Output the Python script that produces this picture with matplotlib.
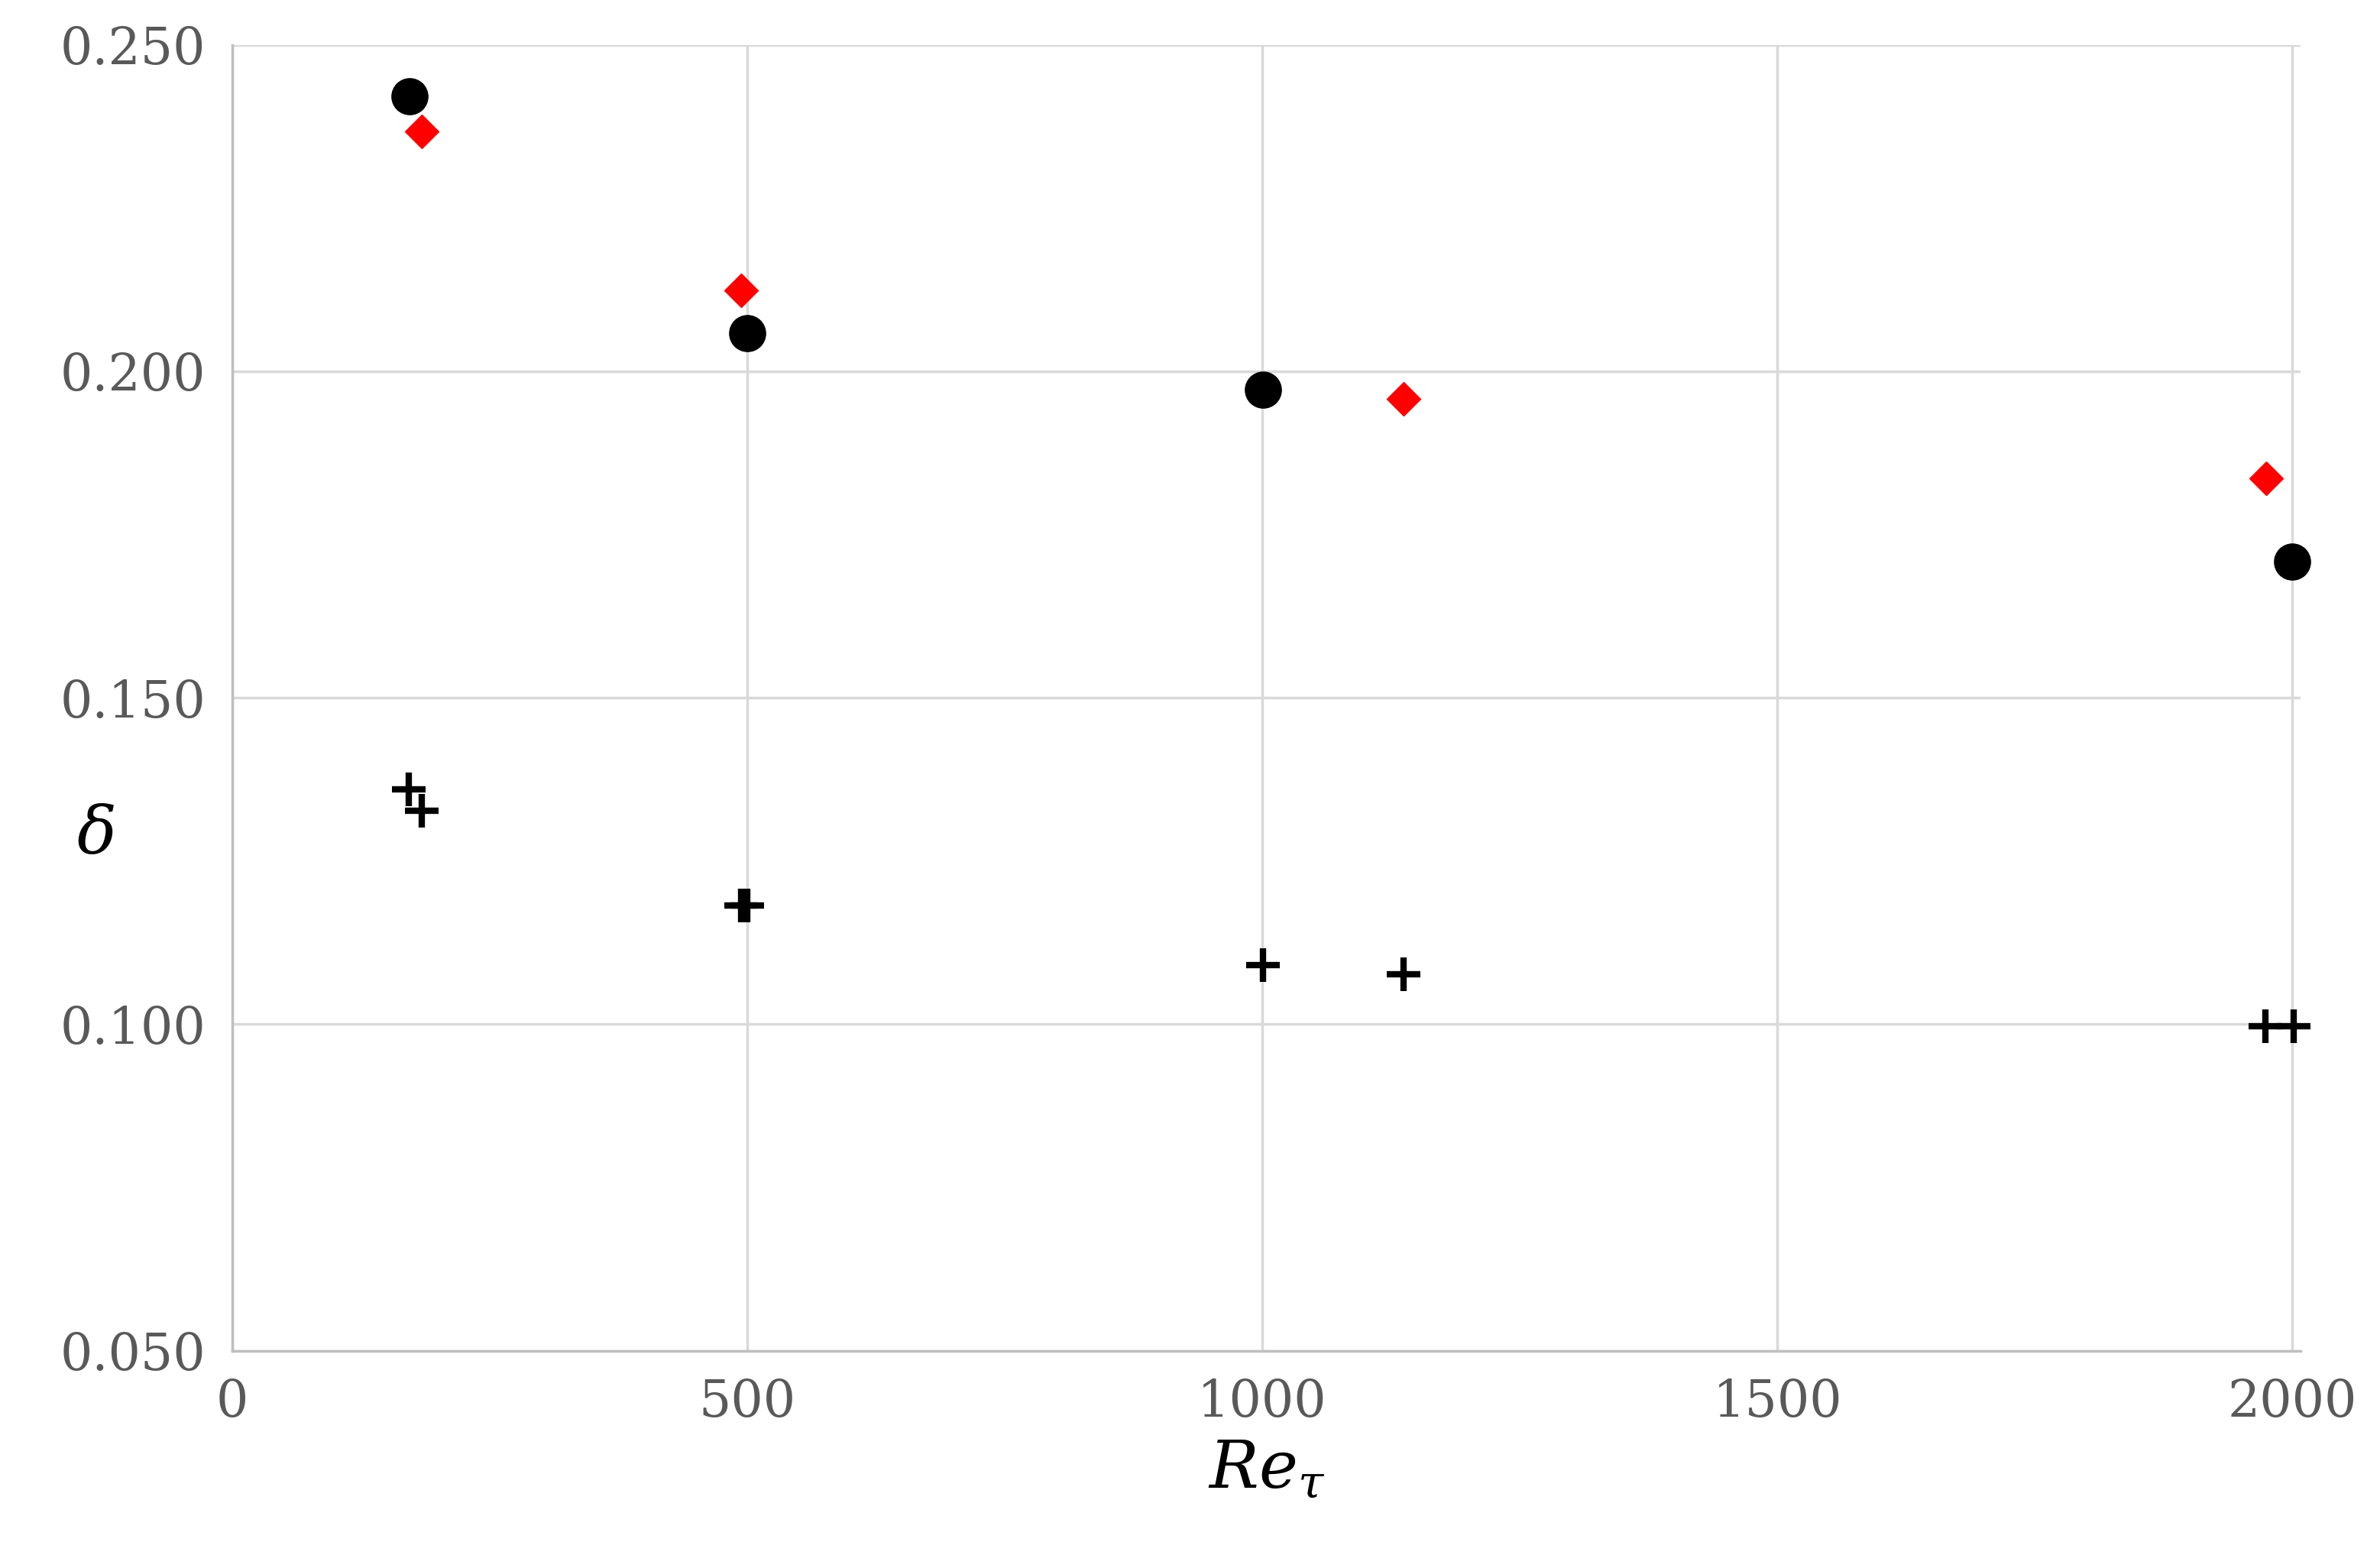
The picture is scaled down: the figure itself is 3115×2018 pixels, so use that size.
import matplotlib
matplotlib.use("Agg")
import matplotlib.pyplot as plt

plt.rcParams['font.family'] = ['DejaVu Serif']
plt.rcParams['mathtext.fontset'] = 'dejavuserif'

# black circles
circ_x = [172, 500, 1001, 2000]
circ_y = [0.2421, 0.2058, 0.1972, 0.1708]
# red diamonds
diam_x = [184, 494, 1137, 1975]
diam_y = [0.2367, 0.2124, 0.1958, 0.1836]
# plus markers
plus_x = [171, 184, 494, 500, 1001, 1137, 1974, 2001]
plus_y = [0.1360, 0.1327, 0.1182, 0.1182, 0.1091, 0.1077, 0.0997, 0.0997]

fig = plt.figure(figsize=(31.15, 20.18), dpi=100)
ax = fig.add_axes([0.0976, 0.124, 0.869, 0.847])

ax.plot(circ_x, circ_y, 'o', color='black', ms=34, zorder=3, clip_on=False)
ax.plot(diam_x, diam_y, 'D', color='#ff0000', ms=22, zorder=3)
ax.plot(plus_x, plus_y, '+', color='black', ms=32, mew=6, zorder=4, clip_on=False)

ax.set_xlim(0, 2008)
ax.set_ylim(0.05, 0.25)
ax.set_xticks([0, 500, 1000, 1500, 2000])
ax.set_yticks([0.05, 0.10, 0.15, 0.20, 0.25])
ax.set_yticklabels([f"{v:.3f}" for v in [0.05, 0.10, 0.15, 0.20, 0.25]])
ax.grid(True, color='#d9d9d9', lw=2.5)
ax.set_axisbelow(True)
for s in ['top', 'right']:
    ax.spines[s].set_visible(False)
for s in ['left', 'bottom']:
    ax.spines[s].set_color('#bfbfbf')
    ax.spines[s].set_linewidth(2.5)
ax.tick_params(length=0, labelsize=48, colors='#595959', pad=25)

ax.set_xlabel(r'$Re_\tau$', fontsize=62, labelpad=10)
ax.set_ylabel(r'$\delta$', fontsize=62, rotation=0, labelpad=40)
ax.yaxis.set_label_coords(-0.066, 0.37)

fig.savefig('out.png', dpi=100)
